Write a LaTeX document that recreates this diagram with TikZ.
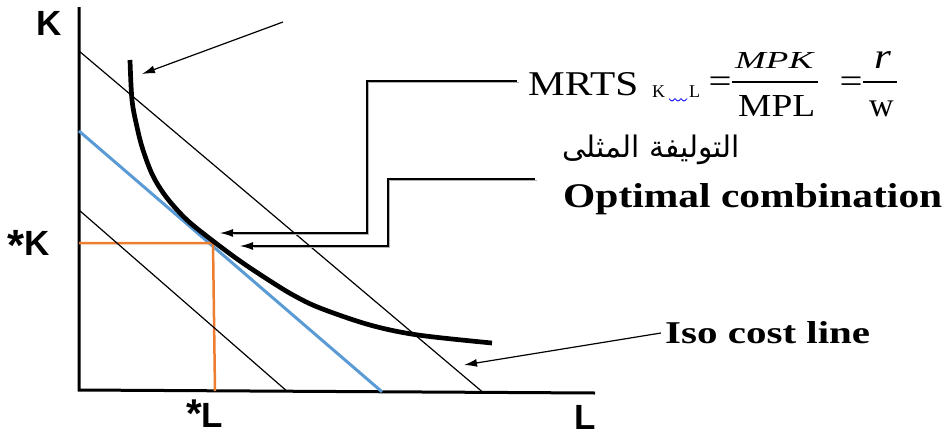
\documentclass[tikz,border=0pt]{standalone}
\usepackage{fontspec}
\usepackage{graphicx}
\setmainfont{Liberation Serif}
\newfontfamily\sansfont{Liberation Sans}
\newfontfamily\tnr[FakeStretch=1.2]{Liberation Serif}
\newfontfamily\arabicfont[Script=Arabic]{DejaVu Sans}
\TeXXeTstate=1
\usetikzlibrary{arrows.meta}
\definecolor{blueL}{RGB}{91,155,213}
\definecolor{orangeL}{RGB}{237,125,49}
\newcommand{\bigstar}{\raisebox{-5pt}[\height][0pt]{\scalebox{1.25}{*}}}
\newcommand{\lowstar}{\scalebox{1.15}{*}}
\begin{document}
\begin{tikzpicture}[x=1pt,y=-1pt,
  axis/.style={line width=3pt},
  budget/.style={line width=1.2pt},
  isoq/.style={line width=4.7pt},
  guide/.style={line width=2.5pt, draw=orangeL},
  ptr/.style={line width=1.2pt, -{Latex[length=13pt,width=8pt]}},
  shade/.style={line width=1.4pt, draw=black!30, shorten >=12pt},
  lab/.style={inner sep=0pt, anchor=base west},
  axlab/.style={lab, font=\sansfont\bfseries\fontsize{35}{38}\selectfont},
]
\useasboundingbox (0,0) rectangle (946,437);

% axes
\coordinate (O) at (79,390);
\coordinate (Ytop) at (79,7);
\coordinate (Xend) at (595,393);
\draw[axis] (Ytop) -- (O) -- (Xend);

% iso cost lines
\coordinate (c0a) at (79,131); \coordinate (c0b) at (382,391.8);
\coordinate (c1a) at (79,51);  \coordinate (c1b) at (483,392.4);
\coordinate (c2a) at (79,210); \coordinate (c2b) at (287,391.2);
\draw[budget, draw=blueL, line width=3pt] (c0a) -- (c0b);

% optimum guides
\coordinate (E) at (213,243);
\coordinate (Ek) at (79,243);
\coordinate (El) at (215,391);
\draw[guide] (Ek) -- (E) -- (El);

\draw[budget] (c1a) -- (c1b);
\draw[budget] (c2a) -- (c2b);

% isoquant
\draw[isoq] plot[smooth, tension=0.55] coordinates {(130,60) (132,100) (137,127) (143,150) (153,176) (167,198) (187,220) (213,241) (240,261) (267,279) (293,295) (320,308) (370,325) (418,335) (492,343)};

% axis labels
\node[axlab] (K) at (36,35) {K};
\node[axlab] (Kstar) at (7,255) {\bigstar K};
\node[axlab] (Lstar) at (186,427) {\lowstar L};
\node[axlab] (L) at (574,429) {L};

% formula
\node[lab] (mrts) at (528,95) {\resizebox{110pt}{23pt}{MRTS}};
\node[lab] (sk) at (652,97) {\fontsize{18}{18}\selectfont K};
\node[lab] (sl) at (689,97) {\fontsize{18}{18}\selectfont L};
\draw[blue, line width=0.7pt] (669,98.5) sin (672,101) cos (675,98.5) sin (678,101) cos (681,98.5) sin (684,101) cos (687,98.5);
\node[inner sep=0pt, anchor=base] (eq1) at (720,92) {\tnr\fontsize{34}{34}\selectfont =};
\node[lab] (mpk) at (735,68) {\resizebox{78pt}{16pt}{\itshape MPK}};
\coordinate (f1a) at (732,82); \coordinate (f1b) at (818,82);
\draw[line width=2.5pt] (f1a) -- (f1b);
\node[lab] (mpl) at (738,116) {\resizebox{77pt}{21pt}{MPL}};
\node[inner sep=0pt, anchor=base] (eq2) at (851,92) {\tnr\fontsize{34}{34}\selectfont =};
\coordinate (f2a) at (863,82); \coordinate (f2b) at (897,82);
\draw[line width=2.5pt] (f2a) -- (f2b);
\node[lab] (r) at (874,68) {\tnr\fontsize{36}{36}\selectfont\itshape r};
\node[lab] (w) at (869,116) {\fontsize{34}{34}\selectfont w};

% labels
\node[lab] (ar) at (562,157) {\resizebox{178pt}{!}{\arabicfont\beginR التوليفة المثلى\endR}};
\node[lab] (opt) at (563,207) {\resizebox{379pt}{24pt}{\bfseries Optimal combination}};
\node[lab] (iso) at (665,343) {\resizebox{205pt}{22pt}{\bfseries Iso cost line}};

% arrow to isoquant
\coordinate (a1s) at (283,22); \coordinate (a1t) at (142,74);
\draw[ptr] (a1s) -- (a1t);

% MRTS connector
\coordinate (m0) at (517,81); \coordinate (mx) at (367,150); \coordinate (opt1) at (220,233);
\draw[shade] ([shift={(1.6,1.6)}]m0) -| ([shift={(1.6,1.6)}]mx) |- ([shift={(1.6,1.6)}]opt1);
\draw[ptr] (m0) -| (mx) |- (opt1);

% Optimal connector
\coordinate (o0) at (535,179); \coordinate (ox) at (388,210); \coordinate (opt2) at (240,246);
\draw[shade] ([shift={(1.6,1.6)}]o0) -| ([shift={(1.6,1.6)}]ox) |- ([shift={(1.6,1.6)}]opt2);
\draw[ptr] (o0) -| (ox) |- (opt2);

% iso cost connector
\coordinate (i0) at (661,333); \coordinate (i1) at (464,365);
\draw[ptr] (i0) -- (i1);
\end{tikzpicture}
\end{document}
